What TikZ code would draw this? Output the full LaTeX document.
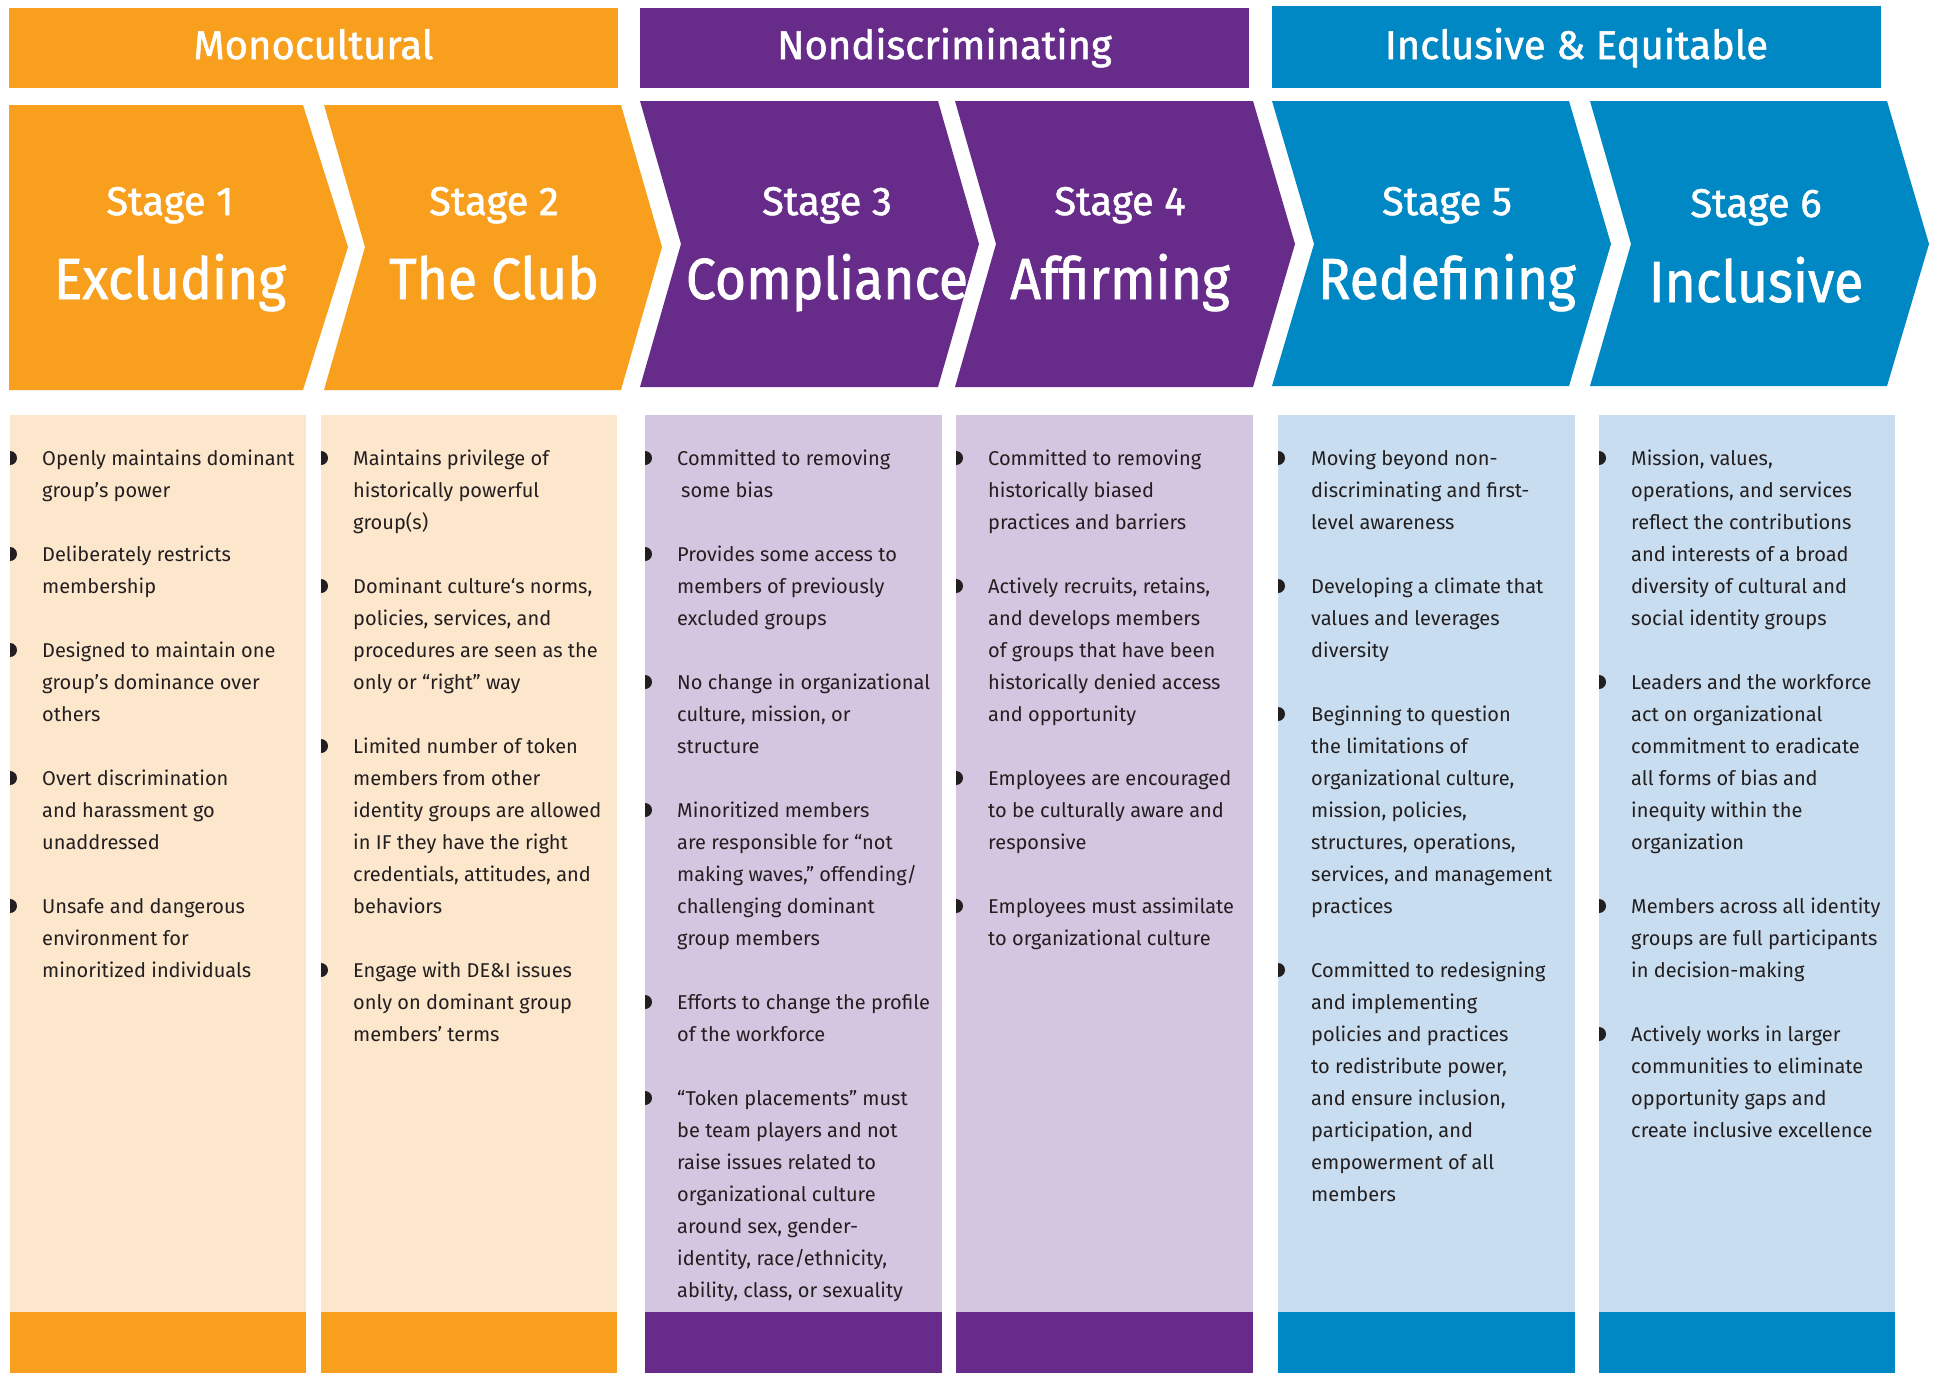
\documentclass[tikz,border=0pt]{standalone}
\usepackage{fontspec}
\setmainfont{Fira Sans}
\newfontfamily\firamed[FakeBold=1.3]{Fira Sans}
\newfontfamily\firabig[FakeBold=1.3,FakeStretch=0.92]{Fira Sans}
\definecolor{orng}{HTML}{F8A01E}
\definecolor{purp}{HTML}{672C89}
\definecolor{blu}{HTML}{0088C5}
\definecolor{orngpale}{HTML}{FDE7CC}
\definecolor{purppale}{HTML}{D4C6E0}
\definecolor{blupale}{HTML}{C8DDF0}
\definecolor{bodyink}{HTML}{231F20}
\tikzset{
  hdrtxt/.style={font=\firamed\fontsize{40}{48}\selectfont, text=white, anchor=base, inner sep=0pt},
  stagetxt/.style={font=\firamed\fontsize{40}{48}\selectfont, text=white, anchor=base, inner sep=0pt},
  bigtxt/.style={font=\firabig\fontsize{58}{70}\selectfont, text=white, anchor=base, inner sep=0pt},
  bodytxt/.style={font=\fontsize{20}{32}\selectfont, text=bodyink, align=left, anchor=north west, inner sep=0pt},
}
\newcommand\bitem[5]{% #1 box left, #2 text offset, #3 line index, #4 name, #5 text
  \node[bodytxt] (#4) at ({#1+#2},{465+32*#3-22.4}) {\strut #5};
  \fill[bodyink] ({#1},{465+32*#3-7}) ++(0,7) arc[start angle=90,end angle=-90,radius=7] -- cycle;
}
\begin{document}
\begin{tikzpicture}[x=1pt,y=-1pt]
\useasboundingbox (0,0) rectangle (1935,1373);
\fill[white] (0,0) rectangle (1935,1373);

% headers
\fill[orng] (9,8) rectangle (618,88);
\node[hdrtxt] (h1) at (313.5,59) {Monocultural};
\fill[purp] (640,8) rectangle (1249,88);
\node[hdrtxt] (h2) at (944.5,59) {Nondiscriminating};
\fill[blu] (1272,6) rectangle (1881,88);
\node[hdrtxt] (h3) at (1576.5,59) {Inclusive \& Equitable};

% chevrons
\fill[orng] (9,105) -- (303,105) -- (348,247) -- (303,390) -- (9,390) -- cycle;
\fill[orng] (324,105) -- (621,105) -- (662,247) -- (621,390) -- (324,390) -- (365,247) -- cycle;
\fill[purp] (640,101) -- (938,101) -- (979,244) -- (938,387) -- (640,387) -- (681,244) -- cycle;
\fill[purp] (955,101) -- (1253,101) -- (1295,244) -- (1253,387) -- (955,387) -- (996,244) -- cycle;
\fill[blu] (1272,101) -- (1569,101) -- (1611,244) -- (1569,386) -- (1272,386) -- (1314,244) -- cycle;
\fill[blu] (1590,101) -- (1887,101) -- (1929,244) -- (1887,386) -- (1590,386) -- (1631,244) -- cycle;

\node[stagetxt] (s1) at (170,215) {Stage 1};
\node[bigtxt] (t1) at (170,299) {Excluding};
\node[stagetxt] (s2) at (494,215) {Stage 2};
\node[bigtxt] (t2) at (494,299) {The Club};
\node[stagetxt] (s3) at (827,215) {Stage 3};
\node[bigtxt] (t3) at (827,299) {Compliance};
\node[stagetxt] (s4) at (1120,215) {Stage 4};
\node[bigtxt] (t4) at (1120,299) {Affirming};
\node[stagetxt] (s5) at (1447,215) {Stage 5};
\node[bigtxt] (t5) at (1447,299) {Redefining};
\node[stagetxt] (s6) at (1756,217) {Stage 6};
\node[bigtxt] (t6) at (1756,302) {Inclusive};

% body columns
\fill[orngpale] (10,415) rectangle (306,1312);
\fill[orng] (10,1312) rectangle (306,1373);
\fill[orngpale] (321,415) rectangle (617,1312);
\fill[orng] (321,1312) rectangle (617,1373);
\fill[purppale] (645,415) rectangle (942,1312);
\fill[purp] (645,1312) rectangle (942,1373);
\fill[purppale] (956,415) rectangle (1253,1312);
\fill[purp] (956,1312) rectangle (1253,1373);
\fill[blupale] (1278,415) rectangle (1575,1312);
\fill[blu] (1278,1312) rectangle (1575,1373);
\fill[blupale] (1599,415) rectangle (1895,1312);
\fill[blu] (1599,1312) rectangle (1895,1373);

% column 1
\bitem{10}{32}{0}{c1a}{Openly maintains dominant\\group’s power}
\bitem{10}{32}{3}{c1b}{Deliberately restricts\\membership}
\bitem{10}{32}{6}{c1c}{Designed to maintain one\\group’s dominance over\\others}
\bitem{10}{32}{10}{c1d}{Overt discrimination\\and harassment go\\unaddressed}
\bitem{10}{32}{14}{c1e}{Unsafe and dangerous\\environment for\\minoritized individuals}
% column 2
\bitem{321}{32}{0}{c2a}{Maintains privilege of\\historically powerful\\group(s)}
\bitem{321}{32}{4}{c2b}{Dominant culture‘s norms,\\policies, services, and\\procedures are seen as the\\only or “right” way}
\bitem{321}{32}{9}{c2c}{Limited number of token\\members from other\\identity groups are allowed\\in IF they have the right\\credentials, attitudes, and\\behaviors}
\bitem{321}{32}{16}{c2d}{Engage with DE\&I issues\\only on dominant group\\members’ terms}
% column 3
\bitem{645}{32}{0}{c3a}{Committed to removing\\\hspace{4pt}some bias}
\bitem{645}{32}{3}{c3b}{Provides some access to\\members of previously\\excluded groups}
\bitem{645}{32}{7}{c3c}{No change in organizational\\culture, mission, or\\structure}
\bitem{645}{32}{11}{c3d}{Minoritized members\\are responsible for “not\\making waves,” offending/\\challenging dominant\\group members}
\bitem{645}{32}{17}{c3e}{Efforts to change the profile\\of the workforce}
\bitem{645}{32}{20}{c3f}{“Token placements” must\\be team players and not\\raise issues related to\\organizational culture\\around sex, gender-\\identity, race/ethnicity,\\ability, class, or sexuality}
% column 4
\bitem{956}{32}{0}{c4a}{Committed to removing\\historically biased\\practices and barriers}
\bitem{956}{32}{4}{c4b}{Actively recruits, retains,\\and develops members\\of groups that have been\\historically denied access\\and opportunity}
\bitem{956}{32}{10}{c4c}{Employees are encouraged\\to be culturally aware and\\responsive}
\bitem{956}{32}{14}{c4d}{Employees must assimilate\\to organizational culture}
% column 5
\bitem{1278}{33}{0}{c5a}{Moving beyond non-\\discriminating and first-\\level awareness}
\bitem{1278}{33}{4}{c5b}{Developing a climate that\\values and leverages\\diversity}
\bitem{1278}{33}{8}{c5c}{Beginning to question\\the limitations of\\organizational culture,\\mission, policies,\\structures, operations,\\services, and management\\practices}
\bitem{1278}{33}{16}{c5d}{Committed to redesigning\\and implementing\\policies and practices\\to redistribute power,\\and ensure inclusion,\\participation, and\\empowerment of all\\members}
% column 6
\bitem{1599}{32}{0}{c6a}{Mission, values,\\operations, and services\\reflect the contributions\\and interests of a broad\\diversity of cultural and\\social identity groups}
\bitem{1599}{32}{7}{c6b}{Leaders and the workforce\\act on organizational\\commitment to eradicate\\all forms of bias and\\inequity within the\\organization}
\bitem{1599}{32}{14}{c6c}{Members across all identity\\groups are full participants\\in decision-making}
\bitem{1599}{32}{18}{c6d}{Actively works in larger\\communities to eliminate\\opportunity gaps and\\create inclusive excellence}
\end{tikzpicture}
\end{document}
